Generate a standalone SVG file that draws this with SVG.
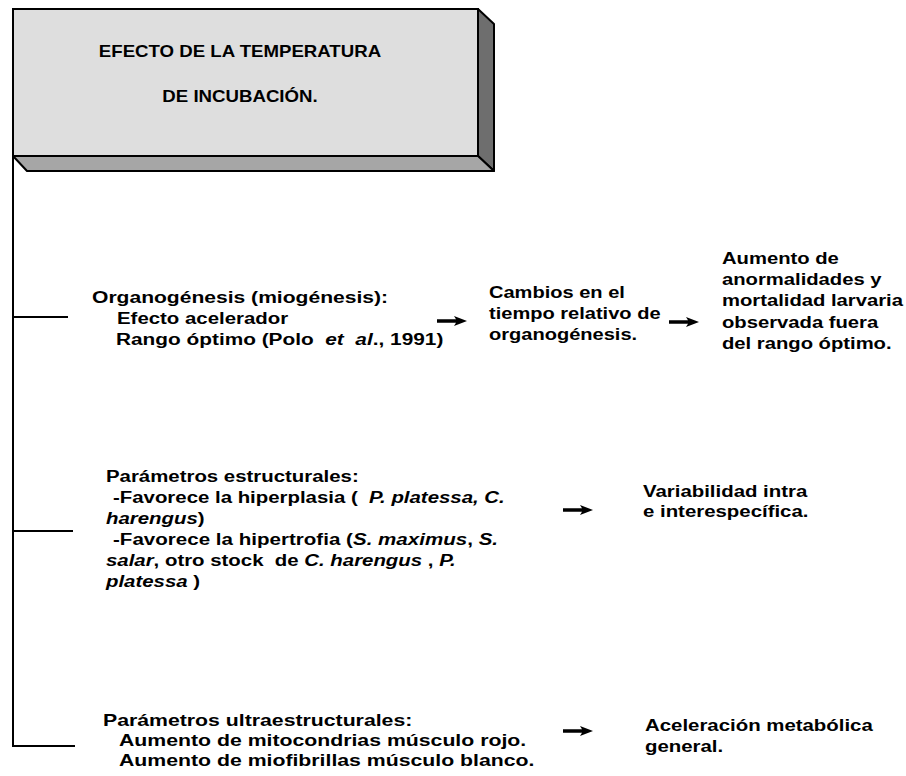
<svg xmlns="http://www.w3.org/2000/svg" width="906" height="776" viewBox="0 0 906 776">
<style>
text{font-family:"Liberation Sans",Arial,sans-serif;font-weight:bold;font-size:17px;fill:#000}
.t{font-size:16.5px;text-anchor:middle}
.it{font-style:italic}
.ln{stroke:#000;stroke-width:2;fill:none}
.ar{fill:#000}
</style>
<defs>
<path id="arr" d="M0,-1.8 L19,-1.8 L17,-5 L30,0 L17,5 L19,1.8 L0,1.8 Z"/>
</defs>
<rect width="906" height="776" fill="#fff"/>
<g id="title">
<polygon points="478,9 494,24 494,171 478,156" fill="#6e6e6e" stroke="#000" stroke-width="2" stroke-linejoin="round"/>
<polygon points="13,156 478,156 494,171 27,171" fill="#a6a6a6" stroke="#000" stroke-width="2" stroke-linejoin="round"/>
<rect x="13" y="9" width="465" height="147" fill="#dedede" stroke="#000" stroke-width="2"/>
<text class="t" transform="matrix(1.13 0 0 1 240 57)">EFECTO DE LA TEMPERATURA</text>
<text class="t" transform="matrix(1.13 0 0 1 240 102)">DE INCUBACIÓN.</text>
</g>
<g id="connectors">
<path class="ln" d="M13,156 V747 M13,317 H68 M13,531 H73 M12,746 H75"/>
<use href="#arr" x="437" y="321" class="ar"/>
<use href="#arr" x="669" y="322" class="ar"/>
<use href="#arr" x="563" y="510" class="ar"/>
<use href="#arr" x="563" y="731" class="ar"/>
</g>
<g id="organogenesis">
<text transform="matrix(1.24 0 0 1 92 303)">Organogénesis (miogénesis):</text>
<text transform="matrix(1.2 0 0 1 117 324)">Efecto acelerador</text>
<text xml:space="preserve" transform="matrix(1.225 0 0 1 116 345)">Rango óptimo (Polo  <tspan class="it">et  al</tspan>., 1991)</text>
</g>
<g id="cambios">
<text transform="matrix(1.18 0 0 1 489 298)">Cambios en el</text>
<text transform="matrix(1.18 0 0 1 489 319)">tiempo relativo de</text>
<text transform="matrix(1.18 0 0 1 489 340)">organogénesis.</text>
</g>
<g id="aumento">
<text transform="matrix(1.19 0 0 1 722 264)">Aumento de</text>
<text transform="matrix(1.19 0 0 1 722 285)">anormalidades y</text>
<text transform="matrix(1.19 0 0 1 722 306)">mortalidad larvaria</text>
<text transform="matrix(1.19 0 0 1 722 328)">observada fuera</text>
<text transform="matrix(1.19 0 0 1 722 349)">del rango óptimo.</text>
</g>
<g id="estructurales">
<text transform="matrix(1.2 0 0 1 106 482)">Parámetros estructurales:</text>
<text xml:space="preserve" transform="matrix(1.2 0 0 1 113 503)">-Favorece la hiperplasia (  <tspan class="it">P. platessa, C.</tspan></text>
<text transform="matrix(1.2 0 0 1 106 524)"><tspan class="it">harengus</tspan>)</text>
<text transform="matrix(1.21 0 0 1 113 545)">-Favorece la hipertrofia (<tspan class="it">S. maximus</tspan>, <tspan class="it">S.</tspan></text>
<text xml:space="preserve" transform="matrix(1.2 0 0 1 106 566)"><tspan class="it">salar</tspan>, otro stock  de <tspan class="it">C. harengus</tspan> , <tspan class="it">P.</tspan></text>
<text transform="matrix(1.2 0 0 1 106 587)"><tspan class="it">platessa</tspan> )</text>
</g>
<g id="variabilidad">
<text transform="matrix(1.2 0 0 1 643 497)">Variabilidad intra</text>
<text transform="matrix(1.2 0 0 1 643 517)">e interespecífica.</text>
</g>
<g id="ultraestructurales">
<text transform="matrix(1.25 0 0 1 103 726)">Parámetros ultraestructurales:</text>
<text transform="matrix(1.25 0 0 1 119 746)">Aumento de mitocondrias músculo rojo.</text>
<text transform="matrix(1.25 0 0 1 119 766)">Aumento de miofibrillas músculo blanco.</text>
</g>
<g id="aceleracion">
<text transform="matrix(1.2 0 0 1 645 731)">Aceleración metabólica</text>
<text transform="matrix(1.2 0 0 1 645 752)">general.</text>
</g>
</svg>
